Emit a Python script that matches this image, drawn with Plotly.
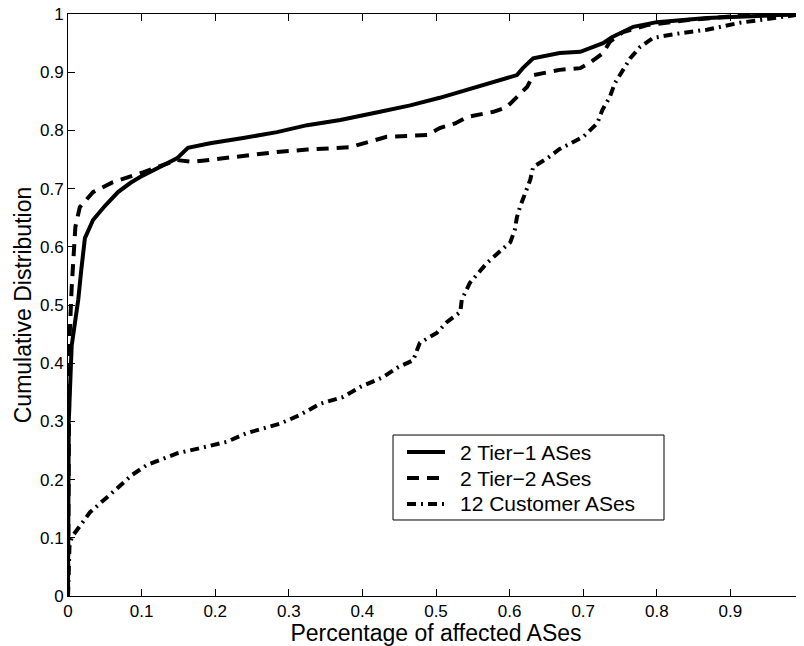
import plotly.graph_objects as go

tick_vals = [0, 0.1, 0.2, 0.3, 0.4, 0.5, 0.6, 0.7, 0.8, 0.9, 1]
tick_text = ["0", "0.1", "0.2", "0.3", "0.4", "0.5", "0.6", "0.7", "0.8", "0.9", "1"]

names = ["2 Tier\u22121 ASes", "2 Tier\u22122 ASes", "12 Customer ASes"]

tier1_x = [0, 0.0005, 0.001, 0.005, 0.01, 0.014, 0.018, 0.023, 0.034, 0.05, 0.068, 0.085,
           0.098, 0.125, 0.148, 0.163, 0.193, 0.238, 0.284, 0.325, 0.37, 0.424, 0.465,
           0.505, 0.55, 0.587, 0.61, 0.618, 0.632, 0.668, 0.696, 0.727, 0.739, 0.768,
           0.8, 0.868, 0.958, 1.0]
tier1_y = [0, 0.15, 0.3, 0.43, 0.47, 0.51, 0.56, 0.615, 0.646, 0.67, 0.694, 0.71,
           0.72, 0.737, 0.752, 0.77, 0.778, 0.787, 0.797, 0.809, 0.818, 0.832, 0.843,
           0.856, 0.873, 0.887, 0.895, 0.907, 0.924, 0.933, 0.935, 0.95, 0.96, 0.978,
           0.986, 0.993, 0.998, 1.0]

tier2_x = [0, 0.0005, 0.001, 0.002, 0.005, 0.007, 0.01, 0.016, 0.034, 0.061, 0.102, 0.148,
           0.17, 0.224, 0.284, 0.325, 0.383, 0.433, 0.488, 0.505, 0.526, 0.542, 0.578,
           0.596, 0.61, 0.624, 0.632, 0.668, 0.696, 0.709, 0.727, 0.736, 0.754, 0.787,
           0.845, 0.913, 1.0]
tier2_y = [0, 0.2, 0.35, 0.44, 0.53, 0.58, 0.634, 0.668, 0.694, 0.711, 0.728, 0.749,
           0.746, 0.754, 0.763, 0.767, 0.771, 0.789, 0.792, 0.804, 0.812, 0.823, 0.832,
           0.84, 0.857, 0.875, 0.895, 0.904, 0.907, 0.916, 0.933, 0.952, 0.969, 0.981,
           0.99, 0.997, 1.0]

cust_x = [0, 0.001, 0.002, 0.005, 0.03, 0.057, 0.087, 0.107, 0.148, 0.179, 0.216, 0.243,
          0.288, 0.315, 0.342, 0.374, 0.397, 0.428, 0.447, 0.469, 0.478, 0.501, 0.515,
          0.533, 0.535, 0.546, 0.569, 0.601, 0.607, 0.61, 0.614, 0.628, 0.632, 0.651,
          0.668, 0.7, 0.719, 0.726, 0.736, 0.743, 0.754, 0.764, 0.777, 0.795, 0.832,
          0.868, 0.913, 0.958, 1.0]
cust_y = [0, 0.05, 0.085, 0.101, 0.144, 0.174, 0.208, 0.225, 0.245, 0.254, 0.265, 0.28,
          0.296, 0.311, 0.33, 0.342, 0.359, 0.376, 0.392, 0.405, 0.435, 0.452, 0.471,
          0.488, 0.509, 0.538, 0.572, 0.608, 0.629, 0.651, 0.668, 0.715, 0.737, 0.752,
          0.768, 0.789, 0.812, 0.835, 0.857, 0.881, 0.904, 0.924, 0.943, 0.959, 0.967,
          0.973, 0.985, 0.993, 1.0]

FONT = "Liberation Sans, Arial, Helvetica, sans-serif"
dashes = ["solid", "12px,8px", "9px,5px,2px,5px"]

fig = go.Figure()
for nm, xs, ys, ds in zip(names, [tier1_x, tier2_x, cust_x], [tier1_y, tier2_y, cust_y], dashes):
    fig.add_trace(go.Scatter(x=xs, y=ys, mode="lines", name=nm, showlegend=False,
                             line=dict(color="black", width=4, dash=ds)))

axis_common = dict(
    range=[0, 1], tickvals=tick_vals, ticktext=tick_text,
    showline=True, linecolor="black", linewidth=1, mirror="ticks",
    ticks="inside", ticklen=7, tickcolor="black", tickwidth=1,
    showgrid=False, zeroline=False, automargin=False,
    ticklabeloverflow="allow",
    tickfont=dict(family=FONT, size=17, color="black"),
)

# manual legend (box, samples, labels) in paper coordinates
box = dict(x0=0.4416, x1=0.8098, y0=0.1306, y1=0.2766)
row_y = [0.2474, 0.2027, 0.1581]
sample_x = [0.4606, 0.5122]
label_x = 0.5299

shapes = [dict(type="rect", xref="paper", yref="paper", **box,
               line=dict(color="black", width=1), fillcolor="white", layer="above")]
annotations = []
for nm, ry, ds in zip(names, row_y, dashes):
    shapes.append(dict(type="line", xref="paper", yref="paper",
                       x0=sample_x[0], x1=sample_x[1], y0=ry, y1=ry,
                       line=dict(color="black", width=4, dash=ds), layer="above"))
    annotations.append(dict(text=nm, xref="paper", yref="paper", x=label_x, y=ry,
                            xanchor="left", yanchor="middle", showarrow=False,
                            font=dict(family=FONT, size=21, color="black")))

fig.update_layout(
    width=796, height=638,
    margin=dict(l=60, r=0, t=6, b=50),
    paper_bgcolor="white", plot_bgcolor="white",
    font=dict(family=FONT, color="black"),
    xaxis=dict(**axis_common,
               title=dict(text="Percentage of affected ASes",
                          font=dict(family=FONT, size=23, color="black"), standoff=3)),
    yaxis=dict(**axis_common,
               title=dict(text="Cumulative Distribution",
                          font=dict(family=FONT, size=23, color="black"), standoff=1)),
    shapes=shapes,
    annotations=annotations,
    showlegend=False,
)

fig.write_html("out.html")
